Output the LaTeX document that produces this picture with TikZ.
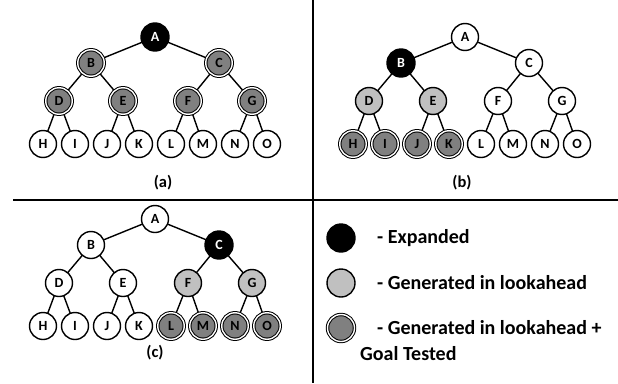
\documentclass[tikz,border=0pt]{standalone}
\usepackage{fontspec}
\setmainfont{Carlito}
\usetikzlibrary{backgrounds}
\definecolor{dgray}{HTML}{808080}
\definecolor{lgray}{HTML}{C0C0C0}
\tikzset{
  tn/.style={circle,draw=black,line width=1.4pt,minimum size=27pt,inner sep=0pt,
    font=\fontsize{14}{14}\selectfont\bfseries},
  nplain/.style={tn,fill=white},
  nexp/.style={tn,fill=black,text=white,minimum size=28pt},
  ngen/.style={tn,fill=lgray},
  ngoal/.style={tn,fill=dgray,line width=1pt,double=white,double distance=1.4pt,minimum size=26.5pt},
  edge/.style={line width=1.4pt,black},
  sep/.style={line width=1.8pt,black},
  lbl/.style={font=\fontsize{16.5}{16.5}\selectfont\bfseries},
  leg/.style={font=\fontsize{20}{22}\selectfont\bfseries,anchor=west,inner sep=0pt}
}
\newcommand\drawtree[3]{%
\begin{scope}[shift={(#2,#3)}]
\node[sA] (#1A) at (155,37) {A};
\node[sB] (#1B) at (91,63) {B};
\node[sC] (#1C) at (219,63) {C};
\node[sD] (#1D) at (59,101) {D};
\node[sE] (#1E) at (123,101) {E};
\node[sF] (#1F) at (188,101) {F};
\node[sG] (#1G) at (252,101) {G};
\node[sH] (#1H) at (43,144) {H};
\node[sI] (#1I) at (75,144) {I};
\node[sJ] (#1J) at (107,144) {J};
\node[sK] (#1K) at (139,144) {K};
\node[sL] (#1L) at (171,144) {L};
\node[sM] (#1M) at (203,144) {M};
\node[sN] (#1N) at (235,144) {N};
\node[sO] (#1O) at (267,144) {O};
\begin{scope}[on background layer]
\draw[edge] (#1A.center)--(#1B.center);
\draw[edge] (#1A.center)--(#1C.center);
\draw[edge] (#1B.center)--(#1D.center);
\draw[edge] (#1B.center)--(#1E.center);
\draw[edge] (#1C.center)--(#1F.center);
\draw[edge] (#1C.center)--(#1G.center);
\draw[edge] (#1D.center)--(#1H.center);
\draw[edge] (#1D.center)--(#1I.center);
\draw[edge] (#1E.center)--(#1J.center);
\draw[edge] (#1E.center)--(#1K.center);
\draw[edge] (#1F.center)--(#1L.center);
\draw[edge] (#1F.center)--(#1M.center);
\draw[edge] (#1G.center)--(#1N.center);
\draw[edge] (#1G.center)--(#1O.center);
\end{scope}
\end{scope}}
\begin{document}
\begin{tikzpicture}[x=1pt,y=-1pt]
\useasboundingbox (0,0) rectangle (618,383);
% separators
\coordinate (h1) at (13,200);
\coordinate (h2) at (618,200);
\coordinate (v1) at (313,0);
\coordinate (v2) at (313,383);
\draw[sep] (h1)--(h2);
\draw[sep] (v1)--(v2);
% tree (a)
\tikzset{sA/.style=nexp,sB/.style=ngoal,sC/.style=ngoal,sD/.style=ngoal,sE/.style=ngoal,
  sF/.style=ngoal,sG/.style=ngoal,sH/.style=nplain,sI/.style=nplain,sJ/.style=nplain,
  sK/.style=nplain,sL/.style=nplain,sM/.style=nplain,sN/.style=nplain,sO/.style=nplain}
\drawtree{a}{0}{0}
% tree (b)
\tikzset{sA/.style=nplain,sB/.style=nexp,sC/.style=nplain,sD/.style=ngen,sE/.style=ngen,
  sF/.style=nplain,sG/.style=nplain,sH/.style=ngoal,sI/.style=ngoal,sJ/.style=ngoal,
  sK/.style=ngoal,sL/.style=nplain,sM/.style=nplain,sN/.style=nplain,sO/.style=nplain}
\drawtree{b}{310}{0}
% tree (c)
\tikzset{sA/.style=nplain,sB/.style=nplain,sC/.style=nexp,sD/.style=nplain,sE/.style=nplain,
  sF/.style=ngen,sG/.style=ngen,sH/.style=nplain,sI/.style=nplain,sJ/.style=nplain,
  sK/.style=nplain,sL/.style=ngoal,sM/.style=ngoal,sN/.style=ngoal,sO/.style=ngoal}
\drawtree{c}{0}{182}
% labels
\node[lbl] (la) at (163,183) {(a)};
\node[lbl] (lb) at (462,183) {(b)};
\node[lbl] (lc) at (155,353) {(c)};
% legend
\node[nexp] (k1) at (341,238) {};
\node[ngen,minimum size=28pt] (k2) at (341,283) {};
\node[ngoal,minimum size=27pt] (k3) at (341,328) {};
\node[leg] (t1) at (377,238) {- Expanded};
\node[leg] (t2) at (377,283) {- Generated in lookahead};
\node[leg] (t3) at (377,328) {- Generated in lookahead +};
\node[leg] (t4) at (360,354) {Goal Tested};
\end{tikzpicture}
\end{document}
